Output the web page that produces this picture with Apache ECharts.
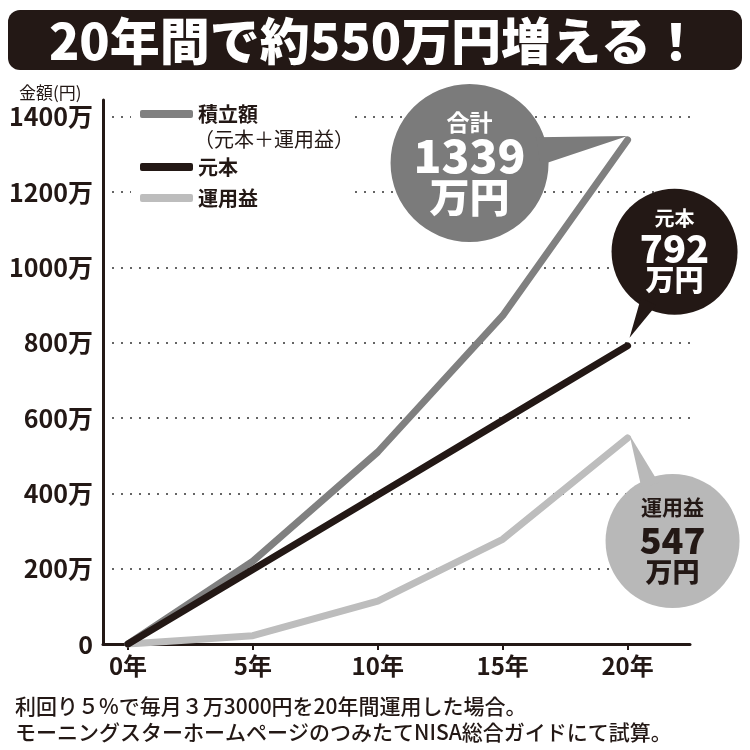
<!DOCTYPE html>
<html>
<head>
<meta charset="utf-8">
<script src="https://cdn.jsdelivr.net/npm/echarts@6/dist/echarts.min.js"></script>
<style>
  html, body { margin: 0; padding: 0; background: #fff; }
  #main { width: 750px; height: 750px; }
</style>
</head>
<body>
<div id="main"></div>
<script>
// data (units: 万円)
var years = [0, 5, 10, 15, 20];
var totalValues = [0, 220, 510, 872, 1339];     // 積立額
var principalValues = [0, 198, 396, 594, 792];  // 元本
var gainValues = [0, 22, 114, 278, 547];        // 運用益
var yearTicks = [0, 5, 10, 15, 20];

var FONT = "'Noto Sans CJK JP', 'Noto Sans', sans-serif";
var colors = {
  total: "#808080",
  principal: "#231815",
  gain: "#bdbdbd",
};

function toPairs(vals) {
  return years.map(function (y, i) {
    return [y, vals[i]];
  });
}

var chart = echarts.init(document.getElementById("main"));

var lineBase = {
  type: "line",
  symbol: "none",
  smooth: false,
  animation: false,
};

var legendBase = {
  orient: "vertical",
  left: 140,
  padding: 0,
  itemWidth: 53,
  itemHeight: 8,
  icon: "roundRect",
  selectedMode: false,
  textStyle: {
    fontFamily: FONT,
    fontSize: 20,
    fontWeight: "bold",
    color: "#231815",
  },
};

var option = {
  animation: false,
  title: [
    {
      text: "20年間で約550万円増える！",
      left: "center",
      top: 11,
      z: 10,
      textStyle: {
        fontFamily: FONT,
        fontSize: 50,
        fontWeight: 900,
        color: "#fff",
      },
    },
    {
      text: "金額(円)",
      left: 14,
      top: 79,
      textStyle: {
        fontFamily: FONT,
        fontSize: 17,
        fontWeight: "normal",
        color: "#231815",
      },
    },
    {
      text:
        "利回り５%で毎月３万3000円を20年間運用した場合。\nモーニングスターホームページのつみたてNISA総合ガイドにて試算。",
      left: 10,
      top: 688,
      textStyle: {
        fontFamily: FONT,
        fontSize: 21,
        fontWeight: 500,
        lineHeight: 26,
        color: "#231815",
      },
    },
  ],
  legend: [
    Object.assign({}, legendBase, { data: ["積立額"], top: 104 }),
    Object.assign({}, legendBase, { data: ["元本", "運用益"], top: 157, itemGap: 11 }),
  ],
  grid: {
    left: 103,
    right: 60,
    top: 100,
    bottom: 106,
  },
  xAxis: {
    type: "value",
    min: -1,
    max: 22.5,
    axisLine: {
      show: true,
      lineStyle: { color: "#231815", width: 3 },
    },
    axisTick: {
      show: true,
      customValues: yearTicks,
      length: 6,
      lineStyle: { color: "#231815", width: 2 },
    },
    axisLabel: {
      customValues: yearTicks,
      margin: 10,
      formatter: function (v) {
        return v + "年";
      },
      fontFamily: FONT,
      fontSize: 24,
      fontWeight: "bold",
      color: "#231815",
    },
    splitLine: { show: false },
  },
  yAxis: {
    type: "value",
    min: 0,
    max: 1445,
    interval: 200,
    axisLine: {
      show: true,
      onZero: false,
      lineStyle: { color: "#231815", width: 3 },
    },
    axisTick: { show: false },
    axisLabel: {
      showMaxLabel: false,
      margin: 10,
      formatter: function (v) {
        return v === 0 ? "0" : v + "万";
      },
      fontFamily: FONT,
      fontSize: 25,
      fontWeight: "bold",
      color: "#231815",
    },
    splitLine: {
      show: true,
      showMinLine: false,
      showMaxLine: false,
      lineStyle: { color: "#333", width: 1.5, type: [2, 7] },
    },
  },
  series: [
    Object.assign({}, lineBase, {
      name: "積立額",
      z: 3,
      color: colors.total,
      lineStyle: { color: colors.total, width: 7, cap: "round", join: "round" },
      data: toPairs(totalValues),
    }),
    Object.assign({}, lineBase, {
      name: "元本",
      z: 4,
      color: colors.principal,
      lineStyle: { color: colors.principal, width: 7, cap: "round", join: "round" },
      data: toPairs(principalValues),
    }),
    Object.assign({}, lineBase, {
      name: "運用益",
      z: 2,
      color: colors.gain,
      lineStyle: { color: colors.gain, width: 7, cap: "round", join: "round" },
      data: toPairs(gainValues),
    }),
  ],
};

chart.setOption(option);

// speech bubbles anchored on the last point of each line
function bubble(id, value, o) {
  var tip = chart.convertToPixel({ gridIndex: 0 }, [20, value]);
  tip = [tip[0] + o.tipDx, tip[1] + o.tipDy];
  var cx = tip[0] + o.dx;
  var cy = tip[1] + o.dy;
  var ang = Math.atan2(tip[1] - cy, tip[0] - cx);
  var rr = o.r * 0.9;
  var p1 = [cx + rr * Math.cos(ang - o.spread), cy + rr * Math.sin(ang - o.spread)];
  var p2 = [cx + rr * Math.cos(ang + o.spread), cy + rr * Math.sin(ang + o.spread)];
  var children = [
    {
      type: "circle",
      shape: { cx: cx, cy: cy, r: o.r },
      style: { fill: o.fill },
      z: 20,
    },
    {
      type: "polygon",
      shape: { points: [p1, tip, p2] },
      style: { fill: o.fill },
      z: 20,
    },
  ];
  o.lines.forEach(function (ln) {
    children.push({
      type: "text",
      x: cx,
      y: cy + ln.dy,
      z: 21,
      style: {
        text: ln.text,
        fill: o.textColor,
        font: ln.weight + " " + ln.size + "px " + FONT,
        align: "center",
        verticalAlign: "middle",
      },
    });
  });
  return { type: "group", id: id, children: children };
}

var last = years.length - 1;

chart.setOption({
  graphic: [
    {
      type: "rect",
      id: "titleBar",
      shape: { x: 8, y: 10, width: 734, height: 60, r: 12 },
      style: { fill: "#231815" },
      z: 5,
    },
    {
      type: "rect",
      id: "legendCover",
      shape: { x: 131, y: 100, width: 222, height: 110 },
      style: { fill: "#fff" },
      z: 1,
    },
    {
      type: "text",
      id: "legendSub",
      left: 194,
      top: 129,
      z: 5,
      style: {
        text: "（元本＋運用益）",
        fill: "#231815",
        font: "normal 20px " + FONT,
      },
    },
    bubble("bTotal", totalValues[last], {
      tipDx: 0, tipDy: -4, dx: -158, dy: 27, r: 79, spread: 0.2,
      fill: "#7b7b7b", textColor: "#fff",
      lines: [
        { text: "合計", size: 23, weight: "bold", dy: -41 },
        { text: String(totalValues[last]), size: 46, weight: 900, dy: -7 },
        { text: "万円", size: 40, weight: 900, dy: 34 },
      ],
    }),
    bubble("bPrincipal", principalValues[last], {
      tipDx: 2, tipDy: -8, dx: 45, dy: -86, r: 63, spread: 0.15,
      fill: "#231815", textColor: "#fff",
      lines: [
        { text: "元本", size: 20, weight: "bold", dy: -33 },
        { text: String(principalValues[last]), size: 38, weight: 900, dy: -3 },
        { text: "万円", size: 29, weight: 900, dy: 28 },
      ],
    }),
    bubble("bGain", gainValues[last], {
      tipDx: 2, tipDy: -3, dx: 43, dy: 106, r: 67, spread: 0.15,
      fill: "#b8b8b8", textColor: "#231815",
      lines: [
        { text: "運用益", size: 21, weight: "bold", dy: -34 },
        { text: String(gainValues[last]), size: 36, weight: 900, dy: -1 },
        { text: "万円", size: 27, weight: 900, dy: 31 },
      ],
    }),
  ],
});
</script>
</body>
</html>
